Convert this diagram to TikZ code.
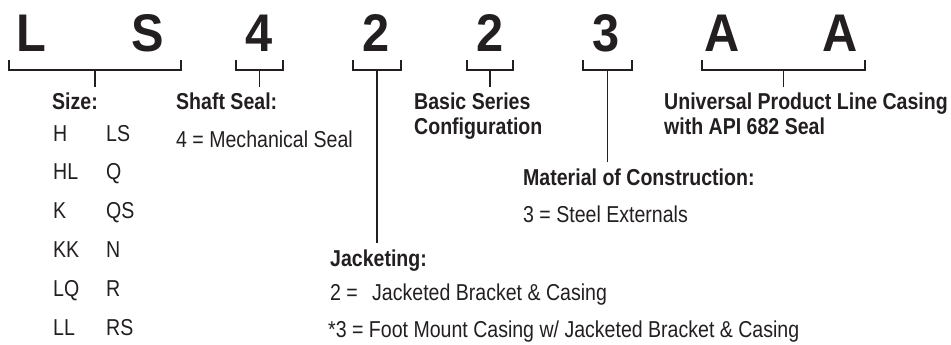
\documentclass[tikz,border=0pt]{standalone}
\usepackage{fontspec}
\setmainfont[FakeStretch=0.85]{Liberation Sans}
\newfontfamily\codefont[FakeStretch=0.92]{Liberation Sans}
\usetikzlibrary{positioning}

\definecolor{ink}{HTML}{231F20}

\tikzset{
  codechar/.style={font=\codefont\bfseries\fontsize{53}{53}\selectfont, text=ink, anchor=base, inner sep=0pt},
  head/.style={font=\bfseries\fontsize{23}{26}\selectfont, text=ink, anchor=base west, inner sep=0pt},
  item/.style={font=\fontsize{23}{26}\selectfont, text=ink, anchor=base west, inner sep=0pt},
  brace/.style={draw=ink, line width=1.6pt}
}

\begin{document}
\begin{tikzpicture}[x=1pt,y=-1pt]

\useasboundingbox (0,0) rectangle (951,345);

% model code letters
\foreach \pos/\ch [count=\i] in {31/L,148/S,259/4,376/2,490/2,606/3,722/A,840/A}
\node[codechar] (c\i) at (\pos,52) {\ch};

% brackets under the code
\foreach \xa/\xb/\yend/\nm in {9/181/87/size, 236/283/87/seal, 353/401/243/jack, 467/513/87/series, 583/632/162/mat, 702/865/87/casing}
{
\draw[brace] (\xa,60) -- (\xa,70) -- (\xb,70) -- (\xb,60);
\coordinate (\nm-top) at ({(\xa+\xb)/2},70);
\coordinate (\nm-end) at ({(\xa+\xb)/2},\yend);
\draw[brace] (\nm-top) -- (\nm-end);
}

% size
\node[head] (size) at (52,110) {Size:};
\foreach \a/\b [count=\i] in {H/LS,HL/Q,K/QS,KK/N,LQ/R,LL/RS}
{
\node[item] (sa\i) at (53,{141+38.8*(\i-1)}) {\a};
\node[item] (sb\i) at (106,{141+38.8*(\i-1)}) {\b};
}

% shaft seal
\node[head] (seal) at (176,110) {Shaft Seal:};
\node[item] (seal1) at (176,147) {4 = Mechanical Seal};

% series
\node[head] (series) at (414,110) {Basic Series};
\node[head] (series2) at (414,134) {Configuration};

% casing
\node[head] (casing) at (664,110) {Universal Product Line Casing};
\node[head] (casing2) at (664,134) {with API 682 Seal};

% material
\node[head] (mat) at (523,185) {Material of Construction:};
\node[item] (mat1) at (523,222) {3 = Steel Externals};

% jacketing
\node[head] (jack) at (330,266) {Jacketing:};
\node[item] (jack1) at (330,300) {2 =};
\node[item] (jack1b) at (372,300) {Jacketed Bracket \& Casing};
\node[item] (jack2) at (328,337) {*3 = Foot Mount Casing w/ Jacketed Bracket \& Casing};

\end{tikzpicture}
\end{document}
